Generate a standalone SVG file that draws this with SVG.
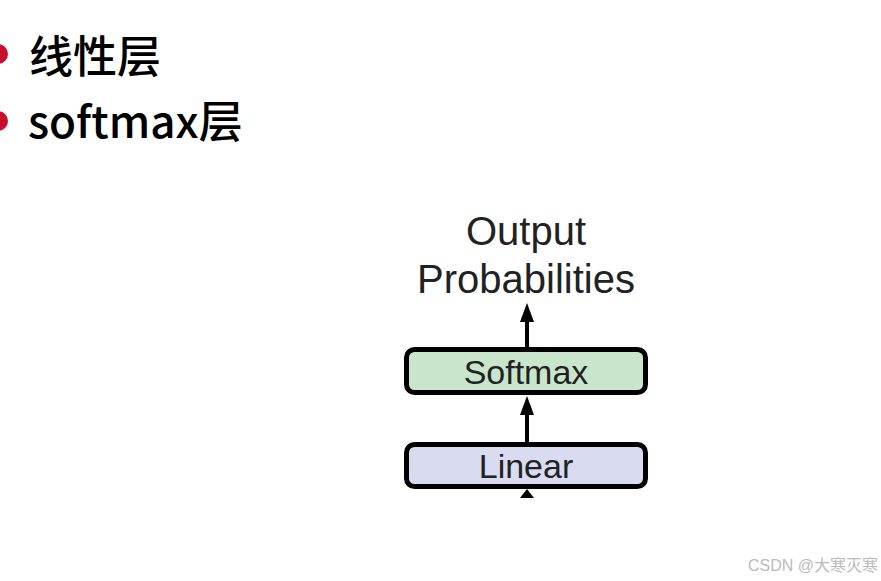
<svg xmlns="http://www.w3.org/2000/svg" width="881" height="581" viewBox="0 0 881 581">
<style>
.cn{font-family:"Noto Sans CJK SC","Noto Sans",sans-serif;font-size:44px;fill:#000;font-weight:500}
.lbl{font-family:"Liberation Sans",Arial,sans-serif;fill:#222;text-anchor:middle}
.box{stroke:#000;stroke-width:5}
.conn{stroke:#000;stroke-width:4;fill:none}
</style>
<rect width="881" height="581" fill="#fff"/>
<g id="bullets">
<circle cx="-2" cy="54" r="10" fill="#c8102e"/>
<circle cx="-2" cy="121" r="10" fill="#c8102e"/>
<text class="cn" x="29" y="73">线性层</text>
<text class="cn" x="28" y="138">softmax层</text>
</g>
<g id="output">
<text class="lbl" x="526" y="245" font-size="40">Output</text>
<text class="lbl" x="526" y="293" font-size="40">Probabilities</text>
</g>
<g id="connectors">
<path class="conn" d="M527,347 V318"/>
<path d="M520,322 L527,303 L534,322 z" fill="#000"/>
<path class="conn" d="M527,442 V412"/>
<path d="M520,415 L527,396 L534,415 z" fill="#000"/>
<path d="M520,498 L527,489 L534,498 z" fill="#000"/>
</g>
<g id="softmax">
<rect class="box" x="406.5" y="349.5" width="239" height="43" rx="8" fill="#c9e6cd"/>
<text class="lbl" x="526" y="384" font-size="34">Softmax</text>
</g>
<g id="linear">
<rect class="box" x="406.5" y="444.5" width="239" height="42" rx="8" fill="#d9dcf0"/>
<text class="lbl" x="526" y="478" font-size="34">Linear</text>
</g>
<text x="748" y="571" font-family="'Liberation Sans','Noto Sans CJK SC',sans-serif" font-size="16" fill="#bbb">CSDN @大寒灭寒</text>
</svg>
